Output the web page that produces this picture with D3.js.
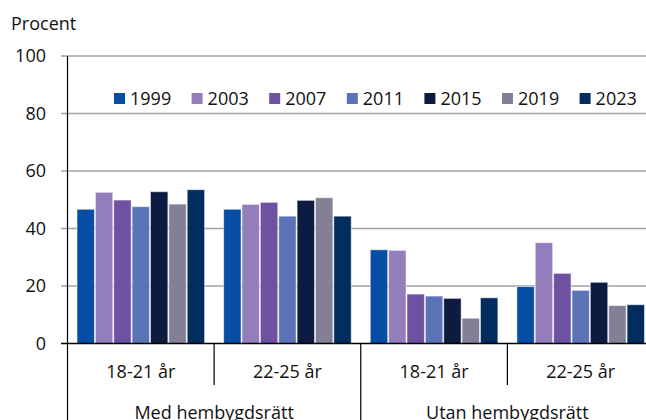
<!DOCTYPE html>
<html>
<head>
<meta charset="utf-8">
<script src="https://cdn.jsdelivr.net/npm/d3@7"></script>
<style>
  html, body { margin: 0; padding: 0; background: #fff; }
  svg { display: block; font-family: "Open Sans", sans-serif; }
</style>
</head>
<body>
<svg id="chart" width="646" height="420"></svg>
<script>
// Groups along the x axis: age band inside each residence-right category
const ageGroups = ["18-21 år", "22-25 år", "18-21 år", "22-25 år"];
const parentGroups = ["Med hembygdsrätt", "Utan hembygdsrätt"];
const years = ["1999", "2003", "2007", "2011", "2015", "2019", "2023"];
const yearColors = ["#064ea3", "#937dbb", "#6f51a1", "#5b73b7", "#0d1b41", "#827f96", "#012d5e"];

// Percent per year, one array per x group
const med1821 = [46.7, 52.6, 49.9, 47.6, 52.8, 48.5, 53.5];
const med2225 = [46.7, 48.4, 49.1, 44.3, 49.8, 50.7, 44.3];
const utan1821 = [32.6, 32.4, 17.2, 16.5, 15.7, 8.8, 15.9];
const utan2225 = [19.8, 35.1, 24.4, 18.5, 21.3, 13.2, 13.5];
const groupValues = [med1821, med2225, utan1821, utan2225];

const yTicks = [0, 20, 40, 60, 80, 100];
const yLabel = "Procent";

const svg = d3.select("#chart");
const plotLeft = 67.5, plotRight = 654, plotTop = 56, plotBottom = 343.5;

const x0 = d3.scaleBand().domain(d3.range(ageGroups.length)).range([plotLeft, plotRight]);
const x1 = d3.scaleBand().domain(years)
  .range([9.5, x0.bandwidth() - 9.5]).paddingInner(0.05);
const y = d3.scaleLinear().domain([0, 100]).range([plotBottom, plotTop]);

// Horizontal gridlines (they also form the tick marks left of the axis)
svg.append("g")
  .selectAll("line")
  .data(yTicks.filter(d => d > 0))
  .join("line")
  .attr("x1", 61).attr("x2", 646)
  .attr("y1", d => y(d)).attr("y2", d => y(d))
  .attr("stroke", "#a3a3a3").attr("stroke-width", 1.6);

// Y tick labels
svg.append("g")
  .selectAll("text")
  .data(yTicks)
  .join("text")
  .attr("x", 46).attr("y", d => y(d))
  .attr("dy", "0.36em")
  .attr("text-anchor", "end")
  .attr("font-size", 18)
  .attr("fill", "#111")
  .text(d => d);

svg.append("text")
  .attr("x", 11).attr("y", 30)
  .attr("font-size", 18).attr("fill", "#111")
  .text(yLabel);

// Bars
const groups = svg.append("g")
  .selectAll("g")
  .data(groupValues)
  .join("g")
  .attr("transform", (d, i) => `translate(${x0(i)},0)`);

groups.selectAll("rect")
  .data(d => d.map((v, j) => ({ year: years[j], value: v, color: yearColors[j] })))
  .join("rect")
  .attr("x", d => x1(d.year))
  .attr("width", x1.bandwidth())
  .attr("y", d => y(d.value))
  .attr("height", d => y(0) - y(d.value))
  .attr("fill", d => d.color)
  .attr("stroke", "rgba(255,255,255,0.55)")
  .attr("stroke-width", 1);

// Axis lines
svg.append("line")
  .attr("x1", 61).attr("x2", 646).attr("y1", plotBottom).attr("y2", plotBottom)
  .attr("stroke", "#000").attr("stroke-width", 1.3);
svg.append("line")
  .attr("x1", plotLeft).attr("x2", plotLeft).attr("y1", plotTop).attr("y2", 420)
  .attr("stroke", "#000").attr("stroke-width", 1.2);

// Category separators: short between age bands, long between parent groups
d3.range(1, ageGroups.length).forEach(i => {
  const xs = x0(i);
  const long = i % 2 === 0;
  svg.append("line")
    .attr("x1", xs).attr("x2", xs)
    .attr("y1", plotBottom).attr("y2", long ? 420 : 385)
    .attr("stroke", "#000").attr("stroke-width", 1.2);
});

// Age band labels
svg.append("g")
  .selectAll("text")
  .data(ageGroups)
  .join("text")
  .attr("x", (d, i) => x0(i) + x0.bandwidth() / 2)
  .attr("y", 378)
  .attr("text-anchor", "middle")
  .attr("font-size", 18).attr("fill", "#111")
  .text(d => d);

// Parent group labels
svg.append("g")
  .selectAll("text")
  .data(parentGroups)
  .join("text")
  .attr("x", (d, i) => x0(i * 2) + x0.bandwidth())
  .attr("y", 419)
  .attr("text-anchor", "middle")
  .attr("font-size", 18).attr("fill", "#111")
  .text(d => d);

// Legend
const legend = svg.append("g")
  .selectAll("g")
  .data(years)
  .join("g")
  .attr("transform", (d, i) => `translate(${114 + i * 77.6},93)`);
legend.append("rect")
  .attr("width", 11).attr("height", 11)
  .attr("fill", (d, i) => yearColors[i]);
legend.append("text")
  .attr("x", 16).attr("y", 12)
  .attr("font-size", 18).attr("fill", "#111")
  .text(d => d);
</script>
</body>
</html>
